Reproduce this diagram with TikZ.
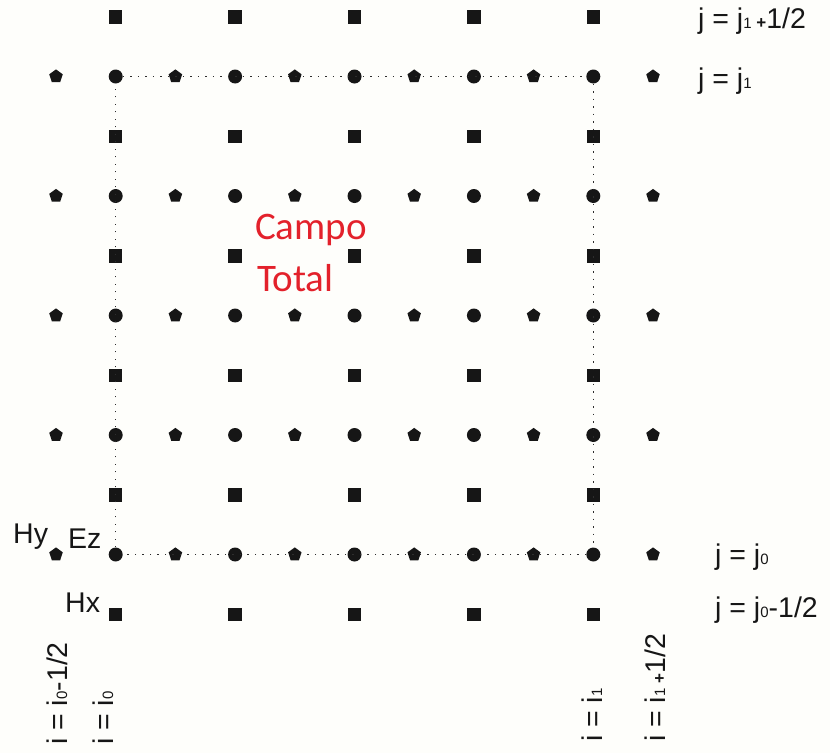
\documentclass[tikz,border=0pt]{standalone}
\usepackage{fontspec}
\setmainfont{Liberation Sans}
\newfontfamily\calib{Carlito}
\usetikzlibrary{shapes.geometric}
\definecolor{mk}{HTML}{161616}
\definecolor{campored}{HTML}{E3212B}
\definecolor{bg}{HTML}{FEFEFB}
\tikzset{
  sq/.style={rectangle, fill=mk, minimum size=13.5pt, inner sep=0pt},
  ci/.style={circle, fill=mk, minimum size=14pt, inner sep=0pt},
  pe/.style={regular polygon, regular polygon sides=5, fill=mk, minimum size=14.2pt, inner sep=0pt},
  lab/.style={font=\fontsize{28.5}{30}\selectfont, inner sep=0pt, text=mk},
  campo/.style={font=\calib\fontsize{39}{44}\selectfont, text=campored, inner sep=0pt, anchor=base west},
  gridline/.style={dash pattern=on 1.3pt off 6.2pt, line width=1.3pt, draw=mk!90}
}
\newcommand\subd[1]{{\fontsize{15}{15}\selectfont #1}}
\begin{document}
\begin{tikzpicture}[x=1pt,y=-1pt]
\fill[bg] (0,0) rectangle (830,753);
\useasboundingbox (0,0) rectangle (830,753);
% Hx (squares) and Ez (circles)
\foreach \k in {1,3,5,7,9}{
  \foreach \m in {0,...,5}{
    \node[sq] (H-\k-\m) at ({56+59.7*\k},{17+119.5*\m}) {};
  }
  \foreach \m in {0,...,4}{
    \node[ci] (E-\k-\m) at ({56+59.7*\k},{76.5+119.5*\m}) {};
  }
}
% Hy (pentagons)
\foreach \k in {0,2,...,10}{
  \foreach \m in {0,...,4}{
    \node[pe] (P-\k-\m) at ({56+59.7*\k},{76.5+119.5*\m}) {};
  }
}
% dotted total-field boundary
\draw[gridline] (E-1-0) -- (E-9-0);
\draw[gridline] (E-9-0) -- (E-9-4);
\draw[gridline] (E-9-4) -- (E-1-4);
\draw[gridline] (E-1-4) -- (E-1-0);
% labels
\node[campo] (campo) at (255,239) {Campo};
\node[campo] (total) at (257,291) {Total};
\node[lab, anchor=base west] (jtop) at (698,28) {j = j\subd{1}\,{\fontsize{17}{17}\selectfont\bfseries +}1/2};
\node[lab, anchor=base west] (j1) at (698,88) {j = j\subd{1}};
\node[lab, anchor=base west] (j0) at (715,564) {j = j\subd{0}};
\node[lab, anchor=base west] (j0m) at (715,617) {j = j\subd{0}-1/2};
\node[lab, anchor=base west] (hy) at (13,543) {Hy};
\node[lab, anchor=base west] (ez) at (68,548) {Ez};
\node[lab, anchor=base west] (hx) at (65,612) {Hx};
\node[lab, rotate=90, anchor=base west] (i0m) at (67,745) {i = i\subd{0}-1/2};
\node[lab, rotate=90, anchor=base west] (i0) at (113,745) {i = i\subd{0}};
\node[lab, rotate=90, anchor=base west] (i1) at (602,742) {i = i\subd{1}};
\node[lab, rotate=90, anchor=base west] (i1p) at (665,742) {i = i\subd{1}\,{\fontsize{17}{17}\selectfont\bfseries +}1/2};
\end{tikzpicture}
\end{document}
